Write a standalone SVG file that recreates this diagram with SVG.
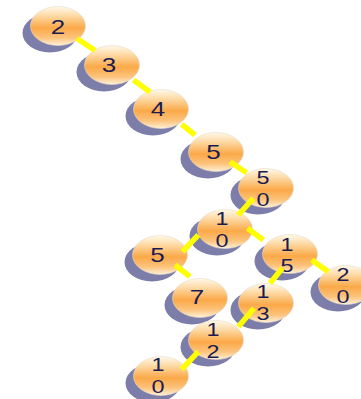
<svg xmlns="http://www.w3.org/2000/svg" width="361" height="399" viewBox="0 0 361 399">
<defs>
<linearGradient id="g" x1="0" y1="0" x2="0" y2="1">
<stop offset="0" stop-color="#fff9ea"/>
<stop offset="0.22" stop-color="#fddcaa"/>
<stop offset="0.55" stop-color="#fba948"/>
<stop offset="0.8" stop-color="#fcc37c"/>
<stop offset="1" stop-color="#fff1d8"/>
</linearGradient>
<style>
.sh{fill:#7d7daa}
.nd{fill:url(#g);stroke:#e6dccb;stroke-width:0.6}
.t{font-family:"Liberation Sans",Arial,sans-serif;fill:#1b1b52;text-anchor:middle}
.s1{font-size:20px}
.s2{font-size:18px}
.e{stroke:#ffff00;stroke-width:5.5;fill:none}
</style>
</defs>
<rect width="361" height="399" fill="#ffffff"/>
<g id="n2">
<ellipse class="sh" cx="50" cy="33" rx="27.5" ry="19.5"/>
<ellipse class="nd" cx="58" cy="26" rx="27.5" ry="19.5"/>
<text class="t s1" transform="translate(58,34) scale(1.3,1)">2</text>
</g>
<g id="n3">
<ellipse class="sh" cx="104" cy="72" rx="27.5" ry="19.5"/>
<ellipse class="nd" cx="112" cy="65" rx="27.5" ry="19.5"/>
<text class="t s1" transform="translate(109,72) scale(1.3,1)">3</text>
</g>
<g id="n4">
<ellipse class="sh" cx="153" cy="116" rx="27.5" ry="19.5"/>
<ellipse class="nd" cx="161" cy="109" rx="27.5" ry="19.5"/>
<text class="t s1" transform="translate(158,116) scale(1.3,1)">4</text>
</g>
<g id="n5a">
<ellipse class="sh" cx="208" cy="159" rx="27.5" ry="19.5"/>
<ellipse class="nd" cx="216" cy="152" rx="27.5" ry="19.5"/>
<text class="t s1" transform="translate(213.5,159) scale(1.3,1)">5</text>
</g>
<g id="n50">
<ellipse class="sh" cx="258" cy="195" rx="27.5" ry="19.5"/>
<ellipse class="nd" cx="266" cy="188" rx="27.5" ry="19.5"/>
<text class="t s2" transform="translate(263,184) scale(1.3,1)">5</text>
<text class="t s2" transform="translate(263,206) scale(1.3,1)">0</text>
</g>
<g id="n10">
<ellipse class="sh" cx="217" cy="236" rx="27.5" ry="19.5"/>
<ellipse class="nd" cx="225" cy="229" rx="27.5" ry="19.5"/>
<text class="t s2" transform="translate(222,225) scale(1.3,1)">1</text>
<text class="t s2" transform="translate(222,247) scale(1.3,1)">0</text>
</g>
<g id="n5b">
<ellipse class="sh" cx="152" cy="262" rx="27.5" ry="19.5"/>
<ellipse class="nd" cx="160" cy="255" rx="27.5" ry="19.5"/>
<text class="t s1" transform="translate(157.5,262) scale(1.3,1)">5</text>
</g>
<g id="n7">
<ellipse class="sh" cx="192" cy="305" rx="27.5" ry="19.5"/>
<ellipse class="nd" cx="200" cy="298" rx="27.5" ry="19.5"/>
<text class="t s1" transform="translate(197,304) scale(1.3,1)">7</text>
</g>
<g id="n15">
<ellipse class="sh" cx="282" cy="261" rx="27.5" ry="19.5"/>
<ellipse class="nd" cx="290" cy="254" rx="27.5" ry="19.5"/>
<text class="t s2" transform="translate(287,250.5) scale(1.3,1)">1</text>
<text class="t s2" transform="translate(287,272) scale(1.3,1)">5</text>
</g>
<g id="n20">
<ellipse class="sh" cx="338" cy="292" rx="27.5" ry="19.5"/>
<ellipse class="nd" cx="346" cy="285" rx="27.5" ry="19.5"/>
<text class="t s2" transform="translate(343,281) scale(1.3,1)">2</text>
<text class="t s2" transform="translate(343,303) scale(1.3,1)">0</text>
</g>
<g id="n13">
<ellipse class="sh" cx="258" cy="310" rx="27.5" ry="19.5"/>
<ellipse class="nd" cx="266" cy="303" rx="27.5" ry="19.5"/>
<text class="t s2" transform="translate(263,298) scale(1.3,1)">1</text>
<text class="t s2" transform="translate(263,320) scale(1.3,1)">3</text>
</g>
<g id="n12">
<ellipse class="sh" cx="208" cy="347" rx="27.5" ry="19.5"/>
<ellipse class="nd" cx="216" cy="340" rx="27.5" ry="19.5"/>
<text class="t s2" transform="translate(213,336) scale(1.3,1)">1</text>
<text class="t s2" transform="translate(213,358) scale(1.3,1)">2</text>
</g>
<g id="n10b">
<ellipse class="sh" cx="153" cy="383" rx="27.5" ry="19.5"/>
<ellipse class="nd" cx="161" cy="376" rx="27.5" ry="19.5"/>
<text class="t s2" transform="translate(158,371) scale(1.3,1)">1</text>
<text class="t s2" transform="translate(158,393) scale(1.3,1)">0</text>
</g>
<g id="edges" class="e">
<line x1="77" y1="38.5" x2="95" y2="50.5"/>
<line x1="133.5" y1="80" x2="150" y2="92"/>
<line x1="181.7" y1="124.3" x2="195" y2="135"/>
<line x1="230" y1="161.7" x2="246.7" y2="172.7"/>
<line x1="253.3" y1="198.3" x2="238.3" y2="215"/>
<line x1="198.3" y1="235" x2="182.5" y2="251.7"/>
<line x1="175" y1="265" x2="190" y2="276.7"/>
<line x1="247.5" y1="228.3" x2="263.3" y2="240"/>
<line x1="311.7" y1="260" x2="328.3" y2="271.7"/>
<line x1="282.5" y1="268" x2="270" y2="283.3"/>
<line x1="254" y1="308.3" x2="238.3" y2="326.7"/>
<line x1="198.3" y1="351.7" x2="181.7" y2="369.3"/>
</g>
</svg>
